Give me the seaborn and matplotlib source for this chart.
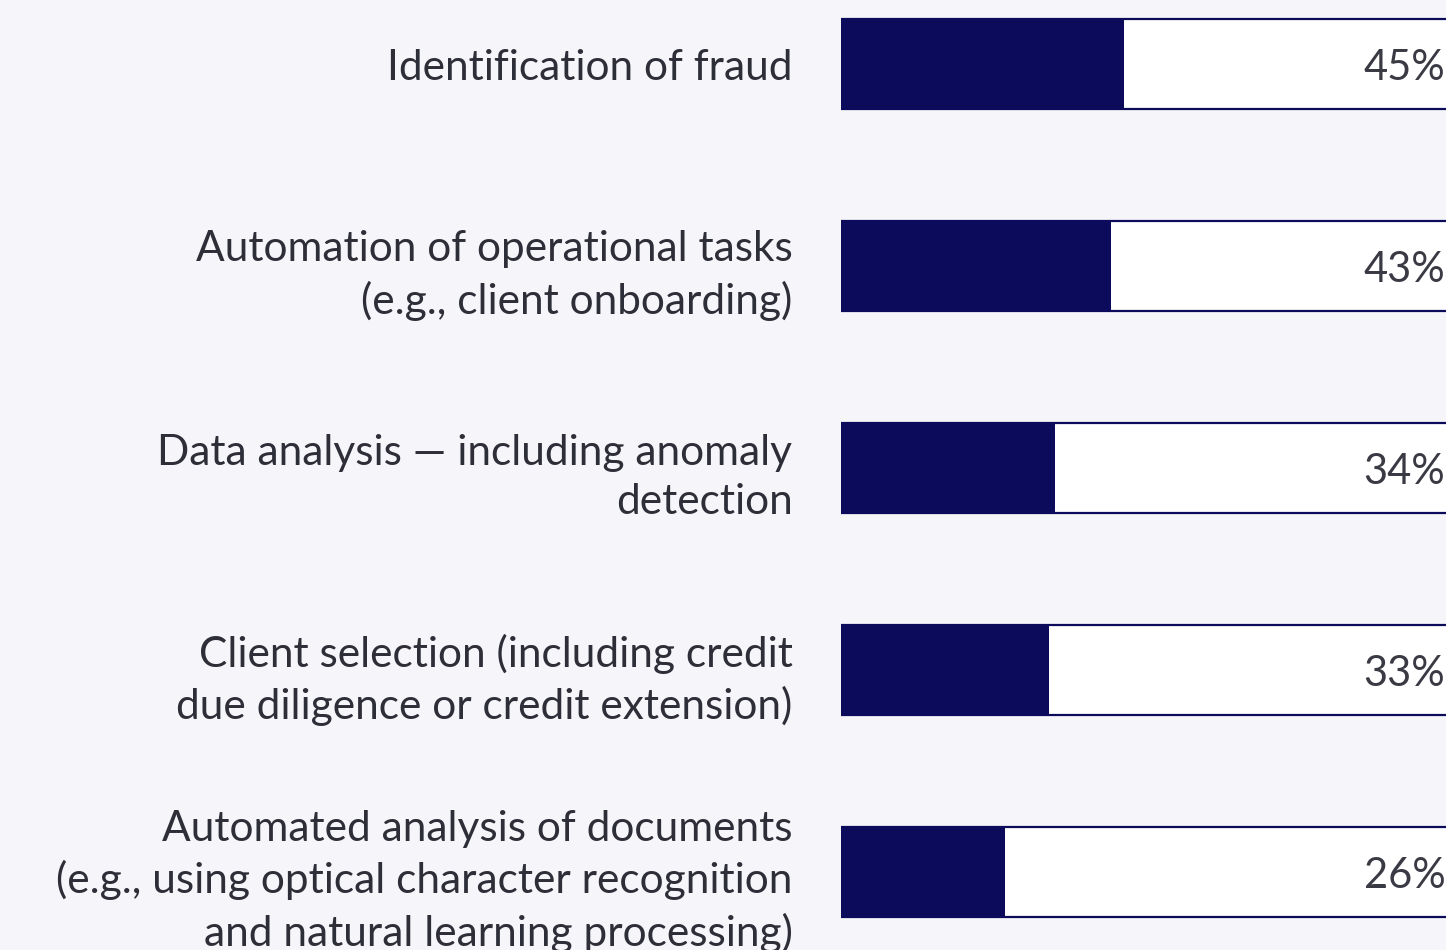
import pandas as pd
import matplotlib.pyplot as plt
import seaborn as sns

# data
categories = [
    "Identification of fraud",
    "Automation of operational tasks\n(e.g., client onboarding)",
    "Data analysis \u2014 including anomaly\ndetection",
    "Client selection (including credit\ndue diligence or credit extension)",
    "Automated analysis of documents\n(e.g., using optical character recognition\nand natural learning processing)",
]
values = [45, 43, 34, 33, 26]
full = [100] * len(values)

df = pd.DataFrame({"category": categories, "value": values, "full": full})

navy = "#0b0a5b"
text_col = "#2e2e38"
bg = "#f6f6fa"

sns.set_theme(style="white")
plt.rcParams["font.family"] = ["Lato", "DejaVu Sans"]

fig = plt.figure(figsize=(14.46, 9.5), dpi=100, facecolor=bg)
ax = fig.add_axes([841 / 1446, 0, 1 - 841 / 1446, 1])
ax.set_facecolor(bg)

# background track and value bars
sns.barplot(data=df, x="full", y="category", color="white", edgecolor=navy,
            linewidth=1.6, width=0.446, saturation=1, ax=ax)
sns.barplot(data=df, x="value", y="category", color=navy, edgecolor="none",
            width=0.446, saturation=1, ax=ax)

ax.set_xlim(0, 96.2)
ax.set_ylim(4.386, -0.317)
ax.set_xlabel("")
ax.set_ylabel("")
ax.set_xticks([])
sns.despine(ax=ax, left=True, bottom=True)

ax.tick_params(axis="y", length=0, pad=35, labelsize=30.5, labelcolor=text_col)
for lab in ax.get_yticklabels():
    lab.set_linespacing(1.36)

for i, v in enumerate(values):
    ax.text(96.1, i + 0.02, f"{v}%", ha="right", va="center",
            fontsize=30, color="#3a3a44")

fig.savefig("out.png", dpi=100, facecolor=bg)
